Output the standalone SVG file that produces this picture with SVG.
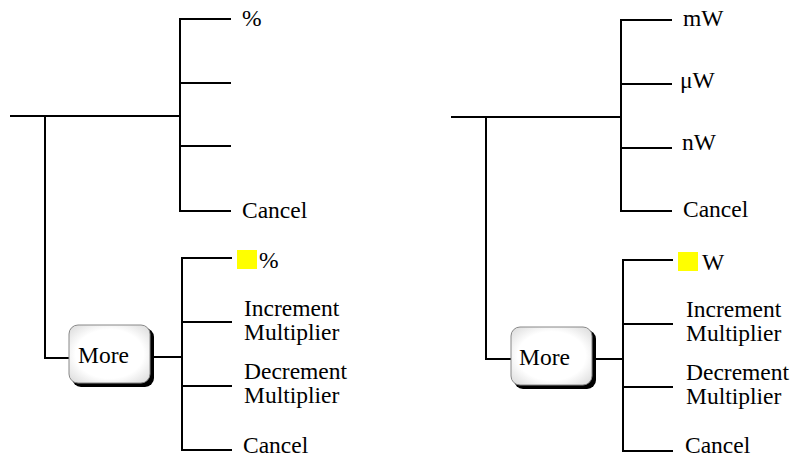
<svg xmlns="http://www.w3.org/2000/svg" width="796" height="459" viewBox="0 0 796 459">
<style>
.ln{stroke:#000;stroke-width:2;fill:none;stroke-linecap:square}
text{font-family:"Liberation Serif","Times New Roman",serif;font-size:23.5px;fill:#000}
.hl{fill:#ffff00}
.sh{fill:#000}
.bx{fill:url(#g);stroke:#888;stroke-width:1}
</style>
<defs>
<radialGradient id="g" cx="0.5" cy="0.5" r="0.7">
<stop offset="0.6" stop-color="#fff"/>
<stop offset="1" stop-color="#d8d8d8"/>
</radialGradient>
</defs>
<g id="connectors">
<path class="ln" d="M11 116H180M180 19V211M180 19H230M180 83H230M180 146H230M180 211H230M45 116V358H69M153 357H182M182 258V450M182 258H231M182 322H231M182 386H231M182 450H231"/>
<path class="ln" d="M452 117H621M621 20V211M621 20H671M621 84H671M621 148H671M621 211H671M486 117V359H511M595 359H623M623 260V451M623 260H672M623 324H672M623 387H672M623 451H672"/>
</g>
<g id="left-menu">
<text x="242" y="26">%</text>
<text x="242" y="218">Cancel</text>
</g>
<g id="left-more">
<rect class="sh" x="72" y="328" width="82" height="59" rx="9"/>
<rect class="bx" x="69" y="325" width="81" height="58" rx="9"/>
<text x="78" y="363">More</text>
</g>
<g id="left-sub">
<rect class="hl" x="237" y="250" width="20" height="19"/>
<text x="259" y="268">%</text>
<text x="244" y="316">Increment</text>
<text x="244" y="340">Multiplier</text>
<text x="244" y="379">Decrement</text>
<text x="244" y="403">Multiplier</text>
<text x="243" y="453">Cancel</text>
</g>
<g id="right-menu">
<text x="683" y="26">mW</text>
<text x="680" y="88">μW</text>
<text x="682" y="150">nW</text>
<text x="683" y="217">Cancel</text>
</g>
<g id="right-more">
<rect class="sh" x="514" y="330" width="82" height="59" rx="9"/>
<rect class="bx" x="511" y="327" width="81" height="58" rx="9"/>
<text x="519" y="365">More</text>
</g>
<g id="right-sub">
<rect class="hl" x="678" y="252" width="20" height="19"/>
<text x="702" y="270">W</text>
<text x="686" y="317">Increment</text>
<text x="686" y="341">Multiplier</text>
<text x="686" y="380">Decrement</text>
<text x="686" y="404">Multiplier</text>
<text x="685" y="453">Cancel</text>
</g>
</svg>
